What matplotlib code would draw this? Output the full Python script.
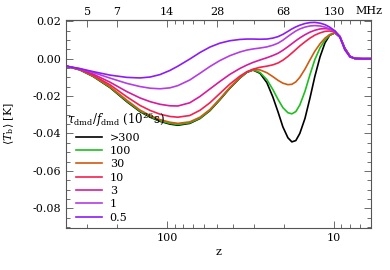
import matplotlib
matplotlib.use('Agg')
import matplotlib.pyplot as plt
from matplotlib.ticker import FixedLocator, NullFormatter, MultipleLocator, FormatStrFormatter

plt.rcParams['font.family'] = ['DejaVu Serif']
plt.rcParams['mathtext.fontset'] = 'dejavuserif'

# redshift grid
z = [400, 332, 277, 219, 174, 145, 126, 110, 96, 86, 73, 63.4, 55.3, 48.2, 42, 36.5, 33.2,
     30.5, 27.7, 25.2, 23.2, 21.6, 20.2, 18.85, 17.85, 16.9, 16.0, 14.9, 13.9, 13.0, 12.1,
     11.3, 10.6, 9.86, 9.2, 8.6, 8.0, 7.48, 6.8, 6.0]

# mean brightness temperature [mK] for each tau/f
t_300 = [-4.0, -6.0, -9.5, -15.5, -23.0, -28.3, -31.3, -33.5, -35.0, -35.6, -34.6, -32.0,
         -27.8, -22.0, -15.8, -10.3, -7.3, -6.1, -7.8, -12.8, -20.5, -28.5, -36.5, -42.3,
         -44.5, -43.8, -40.0, -32.0, -21.0, -9.5, 1.0, 8.5, 12.5, 13.8, 11.6, 5.6, 1.3, 0.1,
         0.0, 0.0]
t_100 = [-4.0, -6.0, -9.4, -15.3, -22.7, -28.0, -31.0, -33.2, -34.6, -35.2, -34.3, -31.8,
         -27.6, -21.8, -15.6, -10.2, -7.2, -6.0, -7.4, -11.2, -16.5, -21.8, -26.2, -28.9,
         -29.5, -28.3, -24.8, -17.5, -8.5, -0.5, 5.8, 10.0, 12.5, 13.8, 11.6, 5.6, 1.3, 0.1,
         0.0, 0.0]
t_30 = [-4.0, -5.9, -9.2, -15.0, -22.2, -27.5, -30.4, -32.6, -34.0, -34.6, -33.8, -31.3,
        -27.2, -21.5, -15.4, -10.0, -7.1, -5.9, -6.0, -7.5, -9.6, -11.6, -13.1, -13.9, -13.7,
        -12.4, -10.0, -5.6, -0.6, 4.0, 8.0, 11.0, 12.9, 13.8, 11.7, 5.6, 1.3, 0.1, 0.0, 0.0]
t_10 = [-4.0, -5.8, -8.8, -14.0, -20.4, -25.0, -27.7, -29.7, -30.9, -31.3, -30.4, -27.6,
        -23.6, -18.6, -13.6, -9.3, -7.0, -5.6, -4.6, -4.0, -3.3, -2.3, -0.8, 1.2, 3.0, 4.9,
        6.8, 9.0, 11.0, 12.6, 13.8, 14.6, 14.8, 14.3, 11.9, 5.5, 1.2, 0.1, 0.0, 0.0]
t_3 = [-4.0, -5.6, -8.2, -12.6, -17.6, -21.0, -23.0, -24.4, -25.2, -25.3, -23.6, -20.2,
       -16.2, -12.2, -8.4, -5.2, -3.4, -2.0, -0.7, 0.5, 1.7, 2.9, 4.5, 6.4, 8.0, 9.6, 11.1,
       12.8, 14.2, 15.2, 15.9, 16.1, 15.8, 14.8, 12.0, 5.3, 1.1, 0.1, 0.0, 0.0]
t_1 = [-4.0, -5.4, -7.4, -10.4, -13.2, -14.9, -15.8, -16.1, -15.6, -14.4, -11.4, -7.8,
       -4.2, -1.0, 1.6, 3.6, 4.6, 5.2, 5.7, 6.3, 7.2, 8.3, 9.9, 11.9, 13.4, 14.8, 15.9, 16.9,
       17.5, 17.7, 17.5, 16.9, 15.9, 14.4, 11.5, 4.8, 0.9, 0.1, 0.0, 0.0]
t_05 = [-4.0, -5.3, -6.9, -8.8, -10.0, -10.3, -9.8, -8.5, -6.3, -4.0, -0.2, 3.3, 6.2, 8.3,
        9.6, 10.3, 10.5, 10.5, 10.4, 10.5, 11.0, 11.8, 13.0, 14.6, 15.9, 17.0, 17.9, 18.8,
        19.3, 19.4, 19.0, 18.2, 16.9, 14.9, 11.5, 4.8, 0.9, 0.1, 0.0, 0.0]

labels = ['>300', '100', '30', '10', '3', '1', '0.5']
colors = ['black', '#1dbf1d', '#d05a10', '#f52050', '#d81a9c', '#b43ce6', '#8c1cf5']

# top axis: frequency of the 21cm line at the marked redshifts
top_z = [300, 200, 100, 50, 20, 10]
top_labels = ['5', '7', '14', '28', '68', '130']

fig = plt.figure(figsize=(3.9, 2.7), dpi=100)
ax = fig.add_axes([0.169, 0.156, 0.782, 0.770])

series = [t_300, t_100, t_30, t_10, t_3, t_1, t_05]
for t, c, lab in zip(series, colors, labels):
    ax.plot(z, [v / 1000 for v in t], color=c, lw=1.2, label=lab)

ax.set_xscale('log')
ax.set_xlim(403, 6.0)
ax.set_ylim(-0.0905, 0.0207)

ax.xaxis.set_major_locator(FixedLocator([100, 10]))
ax.set_xticklabels(['100', '10'])
minor = [m * 10 ** k for k in (0, 1, 2) for m in range(2, 10)]
ax.xaxis.set_minor_locator(FixedLocator(minor))
ax.xaxis.set_minor_formatter(NullFormatter())
ax.yaxis.set_major_locator(MultipleLocator(0.02))
ax.yaxis.set_minor_locator(MultipleLocator(0.005))
ax.yaxis.set_major_formatter(FormatStrFormatter('%.2f'))

ax.tick_params(which='both', direction='in', right=True, top=False, labelsize=8, color='#555555')
ax.tick_params(which='major', length=5, width=0.6)
ax.tick_params(which='minor', length=3, width=0.6)
for s in ax.spines.values():
    s.set_color('#555555')
    s.set_linewidth(0.8)

sec = ax.secondary_xaxis('top')
sec.set_xticks(top_z)
sec.set_xticklabels(top_labels)
sec.xaxis.set_minor_locator(FixedLocator(minor))
sec.xaxis.set_minor_formatter(NullFormatter())
sec.tick_params(which='both', direction='in', labelsize=8, color='#555555', pad=2)
sec.tick_params(which='major', length=5, width=0.6)
sec.tick_params(which='minor', length=3, width=0.6)
sec.spines['top'].set_color('#555555')
ax.text(0.995, 1.02, 'MHz', transform=ax.transAxes, fontsize=8, ha='center', va='bottom')

ax.set_xlabel('z', fontsize=8, labelpad=3)
ax.set_ylabel(r'$\langle T_{\rm b}\rangle$ [K]', fontsize=8)
ax.yaxis.set_label_coords(-0.165, 0.5)

ax.text(0.004, 0.52, r'$\tau_{\rm dmd}/f_{\rm dmd}$ (10$^{26}$s)', transform=ax.transAxes,
        fontsize=8.5, ha='left', va='center')
ax.legend(loc='upper left', bbox_to_anchor=(0.018, 0.48), frameon=False, fontsize=8,
          handlelength=2.35, handletextpad=0.7, labelspacing=0.3, borderaxespad=0)

fig.savefig('out.png', dpi=100)
